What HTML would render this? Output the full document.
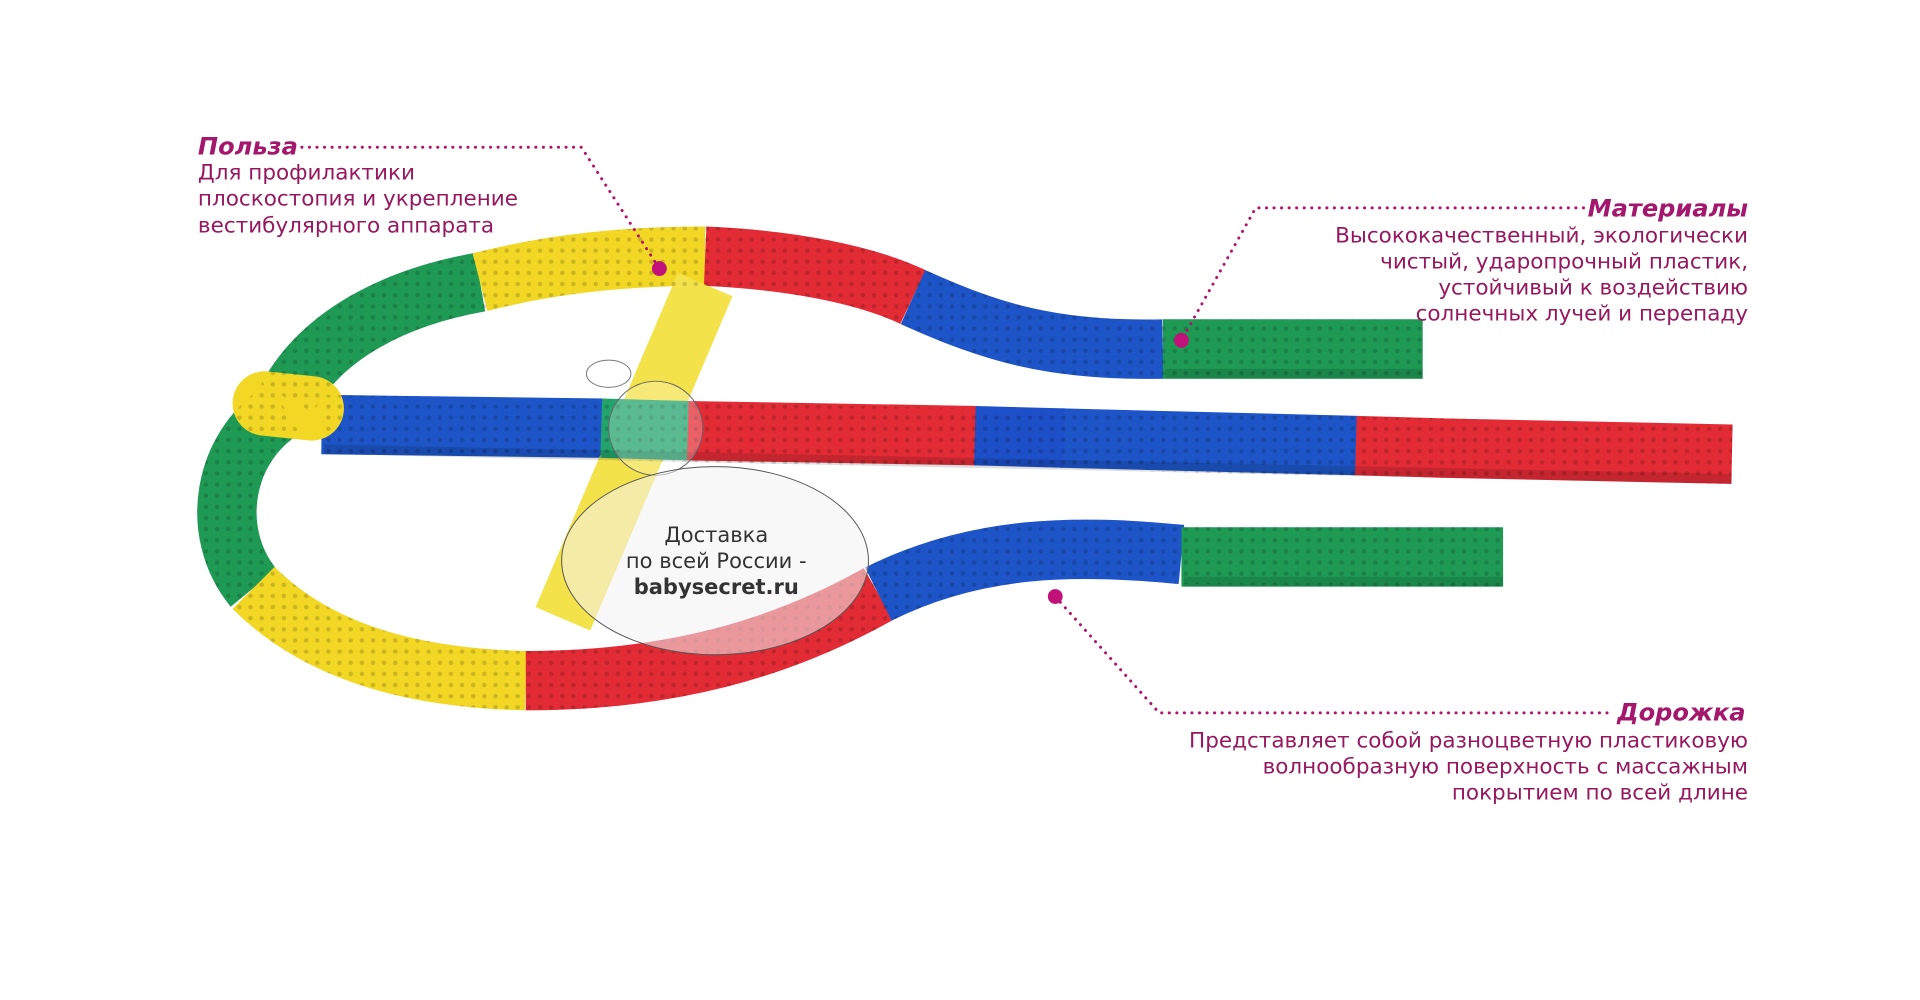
<!DOCTYPE html>
<html><head><meta charset="utf-8"><style>
html,body{margin:0;padding:0;background:#fff;overflow:hidden}
svg{display:block}
text{font-family:"DejaVu Sans","Liberation Sans",sans-serif}
.h{font-weight:bold;font-style:italic;fill:#a3176d;font-size:19.5px}
.b{fill:#96195f;font-size:17.4px}
.dl{stroke:#b3126c;stroke-width:2.4;stroke-dasharray:0.1 6;stroke-linecap:round;fill:none}
.t{fill:none;stroke-width:48;stroke-linecap:butt}
.sh{fill:none;stroke-width:8;stroke:#000;opacity:0.13}
</style></head><body>
<svg width="1920" height="1000" viewBox="0 0 1552 808" preserveAspectRatio="none">
<defs>
<pattern id="dots" width="9" height="9" patternUnits="userSpaceOnUse"><circle cx="4.5" cy="4.5" r="1.8" fill="#000" opacity="0.18"/></pattern>
</defs>
<!-- top loop -->
<path class="t" stroke="#1f9a55" d="M232,322 C260,270 320,240 388,228"/>
<path class="t" stroke="#f2d724" d="M388,228 C450,212 510,207 570,207"/>
<path class="t" stroke="#e32b35" d="M570,207 C640,210 700,222 738,240"/>
<path class="t" stroke="#1d55c8" d="M738,240 C800,268 850,284 940,282"/>
<path class="t" stroke="#1f9a55" d="M940,282 L1150,282"/>
<!-- bottom loop -->
<path class="t" stroke="#1f9a55" d="M230,330 C180,360 168,430 205,475"/>
<path class="t" stroke="#f2d724" d="M205,475 C260,530 340,548 425,550"/>
<path class="t" stroke="#e32b35" d="M425,550 C540,550 630,525 710,480"/>
<path class="t" stroke="#1d55c8" d="M710,480 C790,440 870,440 955,448"/>
<path class="t" stroke="#1f9a55" d="M955,450 L1215,450"/>
<!-- middle bar -->
<path class="t" stroke="#1d55c8" d="M260,343 L488,346"/>
<path class="t" stroke="#e32b35" d="M555,348 L790,352"/>
<path class="t" stroke="#1d55c8" d="M858,354 L1097,360"/>
<path class="t" stroke="#e32b35" d="M1165,362 L1400,367"/>
<!-- yellow diagonal -->
<path class="t" stroke="#f3e24a" stroke-width="46" d="M570,230 L455,500"/>
<!-- connectors -->
<path class="t" stroke="#23a46e" stroke-width="52" d="M486,346 L556,348"/>
<path class="t" stroke="#1d4fc8" stroke-width="54" d="M788,352 L860,354"/>
<path class="t" stroke="#e32b35" stroke-width="54" d="M1096,360 L1166,362"/>
<path stroke="#f2d724" stroke-width="52" stroke-linecap="round" fill="none" d="M214,326 L252,330"/>
<g opacity="0.9">
<path class="t" stroke="url(#dots)" d="M232,322 C260,270 320,240 388,228 C450,212 510,207 570,207 C640,210 700,222 738,240 C800,268 850,284 940,282 L1150,282"/>
<path class="t" stroke="url(#dots)" d="M230,330 C180,360 168,430 205,475 C260,530 340,548 425,550 C540,550 630,525 710,480 C790,440 870,440 955,448 L1215,450"/>
<path class="t" stroke="url(#dots)" d="M260,343 L1400,367"/>
</g>
<path class="sh" d="M262,363 L1400,387"/>
<path class="sh" d="M942,302 L1150,302"/>
<path class="sh" d="M957,470 L1215,470"/>
<!-- watermark -->
<ellipse cx="492" cy="302" rx="18" ry="11" fill="#fff" fill-opacity="0.6" stroke="#777" stroke-width="0.8"/>
<circle cx="530" cy="346" r="38" fill="#fff" fill-opacity="0.25" stroke="#666" stroke-width="0.8"/>
<ellipse cx="578" cy="453" rx="124" ry="76" fill="#f2f2f2" fill-opacity="0.55" stroke="#555" stroke-width="0.8"/>
<text x="579" y="438" text-anchor="middle" font-size="17" fill="#333">Доставка</text>
<text x="579" y="459" text-anchor="middle" font-size="17" fill="#333">по всей России -</text>
<text x="579" y="480" text-anchor="middle" font-size="17" fill="#333" font-weight="bold">babysecret.ru</text>
<!-- callouts -->
<path class="dl" d="M244,119 L470,119 L533,217"/>
<circle cx="533" cy="217" r="6" fill="#c2127a"/>
<text class="h" x="160" y="125">Польза</text>
<text class="b" x="160" y="145">Для профилактики</text>
<text class="b" x="160" y="166">плоскостопия и укрепление</text>
<text class="b" x="160" y="188">вестибулярного аппарата</text>

<path class="dl" d="M1280,168 L1015,168 L955,275"/>
<circle cx="955" cy="275" r="6" fill="#c2127a"/>
<text class="h" x="1413" y="175" text-anchor="end">Материалы</text>
<text class="b" x="1413" y="196" text-anchor="end">Высококачественный, экологически</text>
<text class="b" x="1413" y="217" text-anchor="end">чистый, ударопрочный пластик,</text>
<text class="b" x="1413" y="238" text-anchor="end">устойчивый к воздействию</text>
<text class="b" x="1413" y="259" text-anchor="end">солнечных лучей и перепаду</text>

<path class="dl" d="M853,482 L937,576 L1305,576"/>
<circle cx="853" cy="482" r="6" fill="#c2127a"/>
<text class="h" x="1411" y="582" text-anchor="end">Дорожка</text>
<text class="b" x="1413" y="604" text-anchor="end">Представляет собой разноцветную пластиковую</text>
<text class="b" x="1413" y="625" text-anchor="end">волнообразную поверхность с массажным</text>
<text class="b" x="1413" y="646" text-anchor="end">покрытием по всей длине</text>
</svg>
</body></html>
